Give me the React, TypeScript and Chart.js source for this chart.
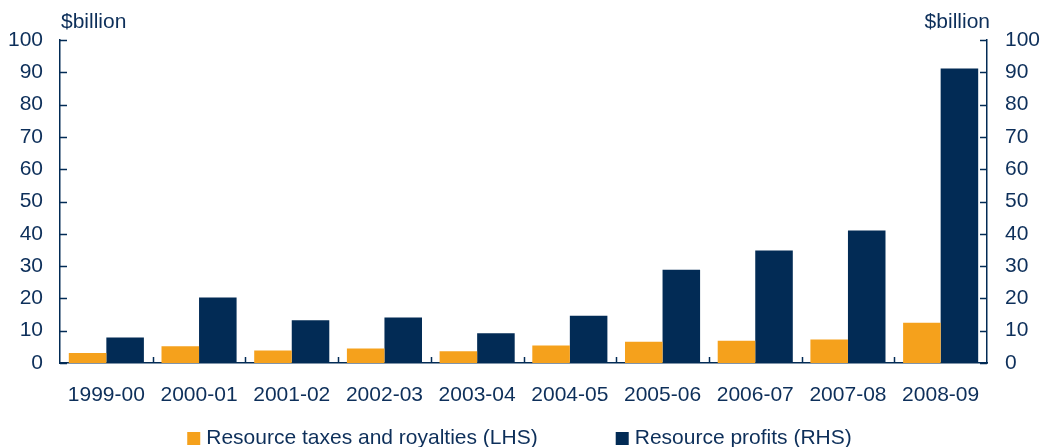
import React, { useEffect, useRef } from "react";
import { Chart, registerables } from "chart.js";

Chart.register(...registerables);

const categories = ["1999-00", "2000-01", "2001-02", "2002-03", "2003-04", "2004-05", "2005-06", "2006-07", "2007-08", "2008-09"];
const taxesRoyalties = [3.1, 5.2, 3.9, 4.5, 3.6, 5.4, 6.6, 6.9, 7.3, 12.5];
const resourceProfits = [7.9, 20.3, 13.2, 14.1, 9.2, 14.6, 28.9, 34.8, 41.0, 91.2];
const seriesNames = ["Resource taxes and royalties (LHS)", "Resource profits (RHS)"];
const unitLabel = "$billion";
const yMin = 0;
const yMax = 100;
const yStep = 10;

const ORANGE = "#f5a11c";
const NAVY = "#022b55";
const TEXT = "#0d2f5a";
const FONT_FAMILY = "'Liberation Sans', Arial, sans-serif";
const FONT_SIZE = 21;

const decorPlugin = {
  id: "decor",
  afterDraw(chart: any) {
    const { ctx, chartArea, scales } = chart;
    const yL = scales.y;
    const yR = scales.y1;
    const x = scales.x;
    ctx.save();
    ctx.strokeStyle = NAVY;
    ctx.lineWidth = 1.5;
    // inward y ticks
    yL.ticks.forEach((t: any) => {
      const py = Math.round(yL.getPixelForValue(t.value)) + 0.5;
      ctx.beginPath();
      ctx.moveTo(chartArea.left, py);
      ctx.lineTo(chartArea.left + 7, py);
      ctx.stroke();
    });
    yR.ticks.forEach((t: any) => {
      const py = Math.round(yR.getPixelForValue(t.value)) + 0.5;
      ctx.beginPath();
      ctx.moveTo(chartArea.right, py);
      ctx.lineTo(chartArea.right - 7, py);
      ctx.stroke();
    });
    // x ticks between categories
    for (let i = 0; i < categories.length - 1; i++) {
      const px = Math.round((x.getPixelForTick(i) + x.getPixelForTick(i + 1)) / 2) + 0.5;
      ctx.beginPath();
      ctx.moveTo(px, chartArea.bottom);
      ctx.lineTo(px, chartArea.bottom - 6);
      ctx.stroke();
    }
    // unit labels
    ctx.fillStyle = TEXT;
    ctx.font = `${FONT_SIZE}px ${FONT_FAMILY}`;
    ctx.textBaseline = "alphabetic";
    ctx.textAlign = "left";
    ctx.fillText(unitLabel, chartArea.left + 1, 28);
    ctx.textAlign = "right";
    ctx.fillText(unitLabel, chartArea.right + 3, 28);

    // legend
    const colors = [ORANGE, NAVY];
    const box = 13;
    const gapBoxText = 6;
    const gapItems = 78;
    const widths = seriesNames.map((n) => ctx.measureText(n).width);
    const total = widths.reduce((a, w) => a + box + gapBoxText + w, 0) + gapItems;
    let lx = chart.width / 2 - 2 - total / 2;
    const baseY = 444;
    ctx.textAlign = "left";
    seriesNames.forEach((n, i) => {
      ctx.fillStyle = colors[i];
      ctx.fillRect(lx, baseY - 12, box, box);
      lx += box + gapBoxText;
      ctx.fillStyle = TEXT;
      ctx.fillText(n, lx, baseY);
      lx += widths[i] + gapItems;
    });
    ctx.restore();
  },
};

export default function App() {
  const canvasRef = useRef<HTMLCanvasElement | null>(null);

  useEffect(() => {
    if (!canvasRef.current) return;
    const tickFont = { family: FONT_FAMILY, size: FONT_SIZE };
    const chart = new Chart(canvasRef.current, {
      type: "bar",
      data: {
        labels: categories,
        datasets: [
          {
            label: seriesNames[0],
            data: taxesRoyalties,
            backgroundColor: ORANGE,
            yAxisID: "y",
            categoryPercentage: 0.81,
            barPercentage: 1.0,
          },
          {
            label: seriesNames[1],
            data: resourceProfits,
            backgroundColor: NAVY,
            yAxisID: "y1",
            categoryPercentage: 0.81,
            barPercentage: 1.0,
          },
        ],
      },
      options: {
        responsive: false,
        animation: false,
        layout: { padding: { top: 40, left: 0, right: 0, bottom: 0 } },
        plugins: {
          legend: { display: false },
          tooltip: { enabled: false },
        },
        scales: {
          x: {
            grid: { display: false, drawTicks: false },
            border: { display: true, color: NAVY, width: 1.5 },
            ticks: { color: TEXT, font: tickFont, padding: 20, maxRotation: 0, autoSkip: false },
            afterFit: (s: any) => {
              s.height = 84;
            },
          },
          y: {
            position: "left",
            min: yMin,
            max: yMax,
            grid: { display: false, drawTicks: false },
            border: { display: true, color: NAVY, width: 1.5 },
            ticks: { stepSize: yStep, color: TEXT, font: tickFont, padding: 17 },
            afterFit: (s: any) => {
              s.width = 60;
            },
          },
          y1: {
            position: "right",
            min: yMin,
            max: yMax,
            grid: { display: false, drawTicks: false },
            border: { display: true, color: NAVY, width: 1.5 },
            ticks: { stepSize: yStep, color: TEXT, font: tickFont, padding: 18 },
            afterFit: (s: any) => {
              s.width = 56;
            },
          },
        },
      },
      plugins: [decorPlugin],
    });
    return () => chart.destroy();
  }, []);

  return (
    <div style={{ position: "absolute", left: 0, top: 0, width: 1043, height: 447 }}>
      <canvas ref={canvasRef} width={1043} height={447} style={{ display: "block" }} />
    </div>
  );
}
